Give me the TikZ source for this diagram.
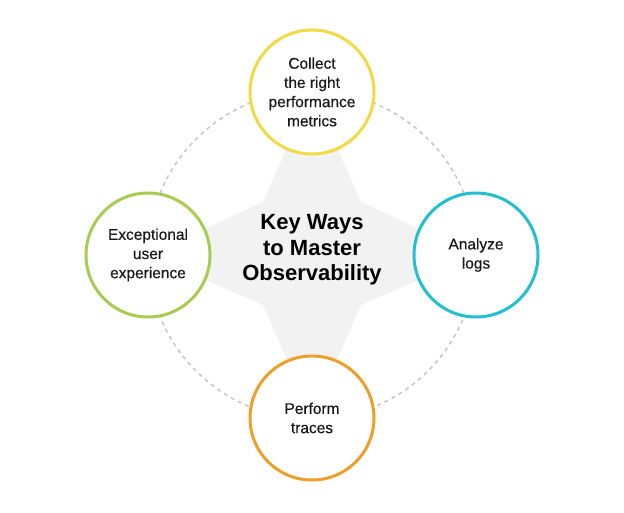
\documentclass[tikz,border=0pt]{standalone}
\usepackage{fontspec}
\setmainfont{Liberation Sans}
\newfontfamily\medfont[FakeBold=0.5]{Liberation Sans}
\definecolor{cyellow}{HTML}{F2DA45}
\definecolor{cgreen}{HTML}{A8CC52}
\definecolor{ccyan}{HTML}{22BFCF}
\definecolor{corange}{HTML}{EE9F2A}
\definecolor{starfill}{HTML}{F2F2F2}
\definecolor{dashgray}{HTML}{C4C4C4}
\tikzset{
  waycircle/.style={circle, draw, fill=white, line width=2.25pt, minimum size=93pt, inner sep=0pt, align=center, text=black!90,
    font=\medfont\fontsize{11.6}{14.4}\selectfont},
  centertext/.style={align=center, font=\fontsize{16.5}{19}\selectfont\bfseries, text=black},
  dashcirc/.style={draw=dashgray, line width=1.1pt, dash pattern=on 3pt off 3pt},
}
\begin{document}
\begin{tikzpicture}[x=0.75pt,y=-0.75pt]
\useasboundingbox (0,0) rectangle (624,513);
\coordinate (c) at (312,255);
\coordinate (tt) at (312,92);
\coordinate (tr) at (476,255);
\coordinate (tb) at (312,418);
\coordinate (tl) at (148,255);
\coordinate (ur) at (361,202);
\coordinate (lr) at (361,305);
\coordinate (ll) at (263,305);
\coordinate (ul) at (263,202);
\draw[dashcirc] (c) circle[radius=123pt];
\fill[starfill] (tt) -- (ur) -- (tr) -- (lr) -- (tb) -- (ll) -- (tl) -- (ul) -- cycle;
\node[centertext] (center) at (312,250) {Key Ways\\to Master\\Observability};
\node[waycircle, draw=cyellow] (collect) at (tt) {Collect\\the right\\performance\\metrics};
\node[waycircle, draw=ccyan] (logs) at (tr) {Analyze\\logs};
\node[waycircle, draw=corange] (traces) at (tb) {Perform\\traces};
\node[waycircle, draw=cgreen] (ux) at (tl) {Exceptional\\user\\experience};
\end{tikzpicture}
\end{document}
